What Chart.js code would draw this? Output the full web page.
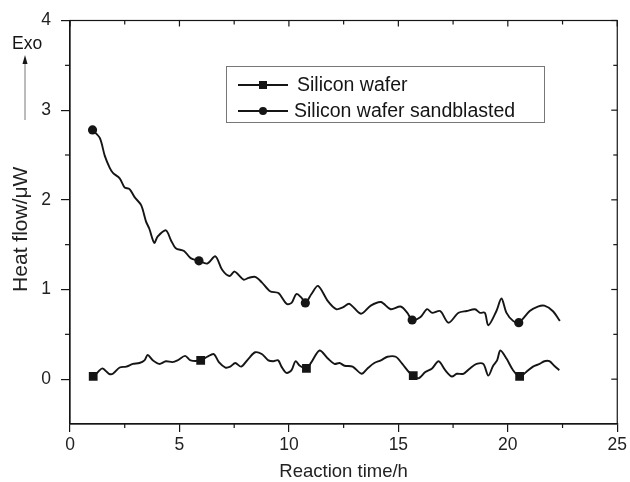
<!DOCTYPE html>
<html>
<head>
<meta charset="utf-8">
<script src="https://cdn.jsdelivr.net/npm/chart.js@4/dist/chart.umd.min.js"></script>
<style>
  html, body { margin: 0; padding: 0; background: #fff; }
  #wrap { width: 630px; height: 482px; position: relative; }
</style>
</head>
<body>
<div id="wrap"><canvas id="c"></canvas></div>
<script>
// Heat flow of a plain and a sandblasted silicon wafer over the reaction time
const waferTime = [1.06, 1.28, 1.48, 1.78, 1.96, 2.27, 2.57, 2.87, 3.17, 3.40, 3.55, 3.78, 4.08, 4.38, 4.68, 4.91,
  5.26, 5.51, 5.97, 6.27, 6.57, 6.80, 7.10, 7.32, 7.55, 7.82, 8.16, 8.46, 8.76, 9.06, 9.29, 9.51, 9.66, 9.89,
  10.12, 10.30, 10.50, 10.80, 11.03, 11.40, 11.78, 12.08, 12.31, 12.54, 12.91, 13.32, 13.59, 13.90, 14.20,
  14.50, 14.88, 15.18, 15.48, 15.68, 15.93, 16.23, 16.54, 16.84, 17.14, 17.44, 17.67, 17.97, 18.27, 18.57,
  18.88, 19.11, 19.33, 19.51, 19.66, 19.94, 20.24, 20.54, 20.84, 21.15, 21.45, 21.67, 21.90, 22.12, 22.35];
const waferFlow = [0.03, 0.08, 0.12, 0.06, 0.06, 0.13, 0.14, 0.17, 0.18, 0.21, 0.27, 0.21, 0.17, 0.20, 0.19, 0.21,
  0.26, 0.21, 0.21, 0.25, 0.28, 0.19, 0.13, 0.14, 0.18, 0.14, 0.23, 0.30, 0.28, 0.21, 0.20, 0.21, 0.14, 0.07,
  0.10, 0.20, 0.15, 0.12, 0.19, 0.32, 0.23, 0.17, 0.18, 0.15, 0.14, 0.06, 0.12, 0.18, 0.21,
  0.25, 0.25, 0.17, 0.08, 0.04, 0.01, 0.08, 0.12, 0.20, 0.10, 0.03, 0.06, 0.06, 0.12, 0.17,
  0.17, 0.04, 0.15, 0.21, 0.32, 0.23, 0.10, 0.03, 0.08, 0.14, 0.17, 0.20, 0.20, 0.15, 0.10];
const waferMarkers = [1.06, 5.97, 10.80, 15.68, 20.54];

const sandTime = [1.03, 1.36, 1.59, 1.81, 1.96, 2.27, 2.49, 2.72, 2.95, 3.25, 3.47, 3.62, 3.85, 4.00, 4.38, 4.61,
  4.83, 5.21, 5.51, 5.89, 6.27, 6.64, 6.95, 7.28, 7.52, 7.93, 8.16, 8.46, 8.76, 9.14, 9.52, 9.89, 10.12, 10.34,
  10.57, 10.75, 11.03, 11.33, 11.78, 12.16, 12.46, 12.76, 13.29, 13.74, 14.20, 14.65, 15.10, 15.41, 15.63,
  16.00, 16.31, 16.54, 16.91, 17.29, 17.75, 18.12, 18.50, 18.73, 18.95, 19.11, 19.48, 19.71, 19.94, 20.24,
  20.50, 21.00, 21.37, 21.67, 22.05, 22.38];
const sandFlow = [2.78, 2.69, 2.49, 2.36, 2.30, 2.24, 2.14, 2.12, 2.03, 1.94, 1.76, 1.68, 1.52, 1.59, 1.66, 1.55,
  1.46, 1.43, 1.35, 1.32, 1.29, 1.37, 1.22, 1.15, 1.20, 1.11, 1.13, 1.14, 1.08, 0.98, 0.96, 0.84, 0.85, 0.95,
  0.91, 0.85, 0.95, 1.04, 0.87, 0.78, 0.80, 0.84, 0.73, 0.82, 0.86, 0.78, 0.81, 0.74, 0.66,
  0.69, 0.78, 0.74, 0.76, 0.63, 0.74, 0.76, 0.78, 0.74, 0.74, 0.60, 0.76, 0.90, 0.74, 0.65,
  0.63, 0.76, 0.81, 0.82, 0.76, 0.65];
const sandMarkers = [1.03, 5.89, 10.75, 15.63, 20.50];

const xTicks = [0, 5, 10, 15, 20, 25];
const xMinorTicks = [2.5, 7.5, 12.5, 17.5, 22.5];
const yTicks = [0, 1, 2, 3, 4];
const yMinorTicks = [0.5, 1.5, 2.5, 3.5];

const seriesNames = ['Silicon wafer', 'Silicon wafer sandblasted'];
const xTitle = 'Reaction time/h';
const yTitle = 'Heat flow/\u03BCW';
const exoLabel = 'Exo';

const INK = '#151515';
const FONT = '"Liberation Sans", Arial, Helvetica, sans-serif';

function toPoints(xs, ys) { return xs.map((t, i) => ({ x: t, y: ys[i] })); }
function markerRadius(list, r) {
  return ctx => (ctx.raw && list.includes(ctx.raw.x)) ? r : 0;
}

// frame, mirrored ticks, minor ticks, legend box, y title and the "Exo" arrow
const decorations = {
  id: 'decorations',
  afterDraw(chart) {
    const { ctx, chartArea: a, scales: { x, y } } = chart;
    const seg = (x1, y1, x2, y2) => { ctx.beginPath(); ctx.moveTo(x1, y1); ctx.lineTo(x2, y2); ctx.stroke(); };
    ctx.save();
    ctx.strokeStyle = INK;
    ctx.lineWidth = 1.2;
    ctx.strokeRect(a.left, a.top, a.right - a.left, a.bottom - a.top);
    xTicks.forEach(v => { const p = x.getPixelForValue(v); seg(p, a.top, p, a.top + 6); });
    xMinorTicks.forEach(v => {
      const p = x.getPixelForValue(v);
      seg(p, a.bottom, p, a.bottom + 4);
      seg(p, a.top, p, a.top + 4);
    });
    yTicks.forEach(v => { const p = y.getPixelForValue(v); seg(a.right, p, a.right - 6, p); });
    yMinorTicks.forEach(v => {
      const p = y.getPixelForValue(v);
      seg(a.left, p, a.left - 5, p);
      seg(a.right, p, a.right - 4, p);
    });

    // legend
    ctx.lineWidth = 1;
    ctx.strokeStyle = '#777';
    ctx.strokeRect(226.5, 66.5, 318, 56);
    const rows = [85, 111];
    const textX = [297, 294];
    ctx.font = '19.5px ' + FONT;
    ctx.textBaseline = 'middle';
    ctx.textAlign = 'left';
    rows.forEach((ry, i) => {
      ctx.strokeStyle = INK;
      ctx.lineWidth = 1.8;
      seg(238, ry, 288, ry);
      ctx.fillStyle = INK;
      if (i === 0) {
        ctx.fillRect(259, ry - 4, 8, 8);
      } else {
        ctx.beginPath(); ctx.arc(263, ry, 4, 0, Math.PI * 2); ctx.fill();
      }
      ctx.fillText(seriesNames[i], textX[i], ry + 1);
    });

    // y axis title
    ctx.save();
    ctx.translate(21, (a.top + a.bottom) / 2 + 7);
    ctx.rotate(-Math.PI / 2);
    ctx.textAlign = 'center';
    ctx.textBaseline = 'middle';
    ctx.font = '21px ' + FONT;
    ctx.fillStyle = '#222';
    ctx.fillText(yTitle, 0, 0);
    ctx.restore();

    // exothermic direction marker
    ctx.fillStyle = INK;
    ctx.font = '17.5px ' + FONT;
    ctx.textAlign = 'left';
    ctx.fillText(exoLabel, 12, 44);
    ctx.strokeStyle = '#555';
    ctx.lineWidth = 0.8;
    seg(25, 120, 25, 62);
    ctx.beginPath();
    ctx.moveTo(25, 55); ctx.lineTo(22.5, 64); ctx.lineTo(27.5, 64); ctx.closePath();
    ctx.fillStyle = INK;
    ctx.fill();
    ctx.restore();
  }
};

const lineStyle = {
  borderColor: INK,
  backgroundColor: INK,
  borderWidth: 1.9,
  tension: 0.3,
  fill: false,
  pointHoverRadius: 0,
  pointBorderWidth: 0
};

new Chart(document.getElementById('c'), {
  type: 'line',
  data: {
    datasets: [
      Object.assign({
        label: seriesNames[0],
        data: toPoints(waferTime, waferFlow),
        pointStyle: 'rect',
        pointRadius: markerRadius(waferMarkers, 6.2)
      }, lineStyle),
      Object.assign({
        label: seriesNames[1],
        data: toPoints(sandTime, sandFlow),
        pointStyle: 'circle',
        pointRadius: markerRadius(sandMarkers, 4.6)
      }, lineStyle)
    ]
  },
  options: {
    responsive: true,
    maintainAspectRatio: false,
    animation: false,
    events: [],
    layout: { padding: { top: 17, right: 8, left: 0, bottom: 0 } },
    plugins: { legend: { display: false }, tooltip: { enabled: false } },
    scales: {
      x: {
        type: 'linear',
        min: 0,
        max: 25,
        afterBuildTicks: s => { s.ticks = xTicks.map(v => ({ value: v })); },
        afterFit: s => { s.height = 58; },
        grid: { drawOnChartArea: false, drawTicks: true, tickLength: 8, color: INK, lineWidth: 1.2 },
        border: { color: INK, width: 1.2 },
        ticks: { color: '#222', font: { family: FONT, size: 17.5 }, padding: 3, maxRotation: 0 },
        title: { display: true, text: xTitle, color: '#222', font: { family: FONT, size: 18.5, lineHeight: 1 }, padding: { top: 0, bottom: 1 } }
      },
      y: {
        type: 'linear',
        min: -0.5,
        max: 4,
        afterBuildTicks: s => { s.ticks = yTicks.map(v => ({ value: v })); },
        afterFit: s => { s.width = 70; },
        grid: { drawOnChartArea: false, drawTicks: true, tickLength: 9, color: INK, lineWidth: 1.2 },
        border: { color: INK, width: 1.2 },
        ticks: { color: '#222', font: { family: FONT, size: 17.5 }, padding: 10 },
        title: { display: false }
      }
    }
  },
  plugins: [decorations]
});
</script>
</body>
</html>
